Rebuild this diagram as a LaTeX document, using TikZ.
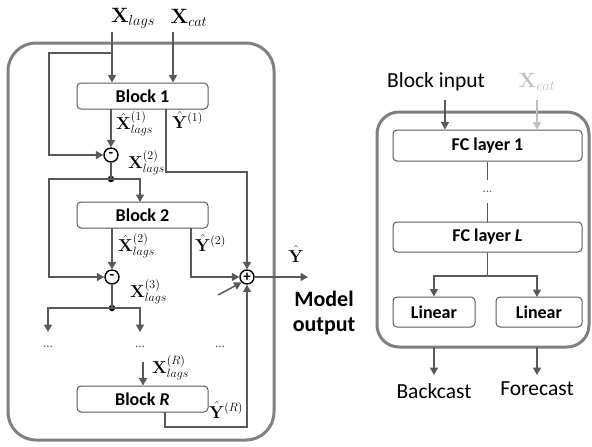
\documentclass[tikz,border=0pt]{standalone}
\usepackage[no-math]{fontspec}
\setmainfont{Carlito}
\usetikzlibrary{arrows.meta}
\DeclareMathSizes{15}{15}{11.5}{9}
\DeclareMathSizes{16}{16}{12}{9}
\DeclareMathSizes{20}{20}{15.5}{12}
\DeclareMathSizes{18}{18}{14}{10}
\definecolor{ln}{HTML}{595959}
\definecolor{frame}{HTML}{808080}
\definecolor{lt}{HTML}{BFBFBF}
\begin{document}
\begin{tikzpicture}[x=1pt,y=-1pt,
  conn/.style={draw=ln,line width=1.5pt},
  arr/.style={conn,-{Triangle[length=7.5pt,width=8pt]}},
  outerbox/.style={draw=frame,line width=3pt,rounded corners=28pt},
  blk/.style={draw=ln,line width=1pt,rounded corners=4pt,inner sep=0pt,font=\fontsize{18}{20}\selectfont\bfseries},
  opc/.style={circle,draw=black,line width=1.4pt,minimum size=14pt,inner sep=0pt,font=\fontsize{15}{15}\selectfont\bfseries},
  jdot/.style={circle,fill=black,minimum size=6.5pt,inner sep=0pt},
  lab/.style={anchor=west,inner sep=0pt,font=\fontsize{16}{16}\selectfont},
  big/.style={inner sep=0pt,font=\fontsize{20}{20}\selectfont},
  txt/.style={inner sep=0pt,font=\fontsize{21.5}{24}\selectfont},
  dots/.style={inner sep=0pt,font=\fontsize{13}{13}\selectfont,text=ln}]
\useasboundingbox (0,0) rectangle (592,447);

% ---------- left panel ----------
\draw[outerbox] (8,43) rectangle (274,440);

\node[big] (xlags) at (133,18) {$\mathbf{X}_{lags}$};
\node[big] (xcat) at (189,18) {$\mathbf{X}_{cat}$};

\node[blk,minimum width=131pt,minimum height=26pt] (b1) at (142.5,96) {Block 1};
\node[blk,minimum width=131pt,minimum height=26pt] (b2) at (142.5,215) {Block 2};
\node[blk,minimum width=131pt,minimum height=26pt] (bR) at (142.5,399) {Block \textit{R}};

\node[opc] (m1) at (111,155) {-};
\node[opc] (m2) at (112,277) {-};
\node[opc] (pl) at (247,277) {+};
\node[jdot] (d1) at (111,179) {};
\node[jdot] (d2) at (112,308) {};

\coordinate (xlin) at (112,32);
\coordinate (xcin) at (173,32);
\coordinate (fb1) at (112,53);
\draw[arr] (xlin) -- (xlin |- b1.north);
\draw[arr] (xcin) -- (xcin |- b1.north);
\draw[arr] (fb1) -- (49,53) -- (49,155) -- (m1.west);
\draw[arr] (111,109) -- (m1.north);
\draw[arr] (166,109) -- (166,172) -- (247,172) -- (pl.north);
\draw[conn] (m1.south) -- (d1.center);
\draw[arr] (d1.center) -- (49,179) -- (49,277) -- (m2.west);
\draw[arr] (d1.center) -- (140,179) -- (140,202);
\draw[arr] (112,228) -- (m2.north);
\draw[arr] (191,228) -- (191,277) -- (pl.west);
\coordinate (extra) at (218,295);
\draw[arr] (extra) -- (pl.south west);
\coordinate (yout) at (308,277);
\draw[arr] (pl.east) -- (yout);
\draw[conn] (m2.south) -- (d2.center);
\draw[arr] (d2.center) -- (48,308) -- (48,332);
\draw[arr] (d2.center) -- (140,308) -- (140,332);
\node[dots] (e1) at (48,347) {...};
\node[dots] (e2) at (140,347) {...};
\node[dots] (e3) at (220,347) {...};
\coordinate (xrin) at (143,362);
\draw[arr] (xrin) -- (xrin |- bR.north);
\draw[arr] (165,412) -- (165,427) -- (247,427) -- (pl.south);

\node[lab] (l1) at (116,124) {$\hat{\mathbf{X}}^{(1)}_{lags}$};
\node[lab] (l2) at (172,120) {$\hat{\mathbf{Y}}^{(1)}$};
\node[lab] (l3) at (128,163) {$\mathbf{X}^{(2)}_{lags}$};
\node[lab] (l4) at (118,246) {$\hat{\mathbf{X}}^{(2)}_{lags}$};
\node[lab] (l5) at (195,243) {$\hat{\mathbf{Y}}^{(2)}$};
\node[lab] (l6) at (130,292) {$\mathbf{X}^{(3)}_{lags}$};
\node[lab] (l7) at (152,368) {$\mathbf{X}^{(R)}_{lags}$};
\node[lab] (l8) at (209,410) {$\hat{\mathbf{Y}}^{(R)}$};

\node[inner sep=0pt,font=\fontsize{18}{18}\selectfont] (yh) at (296,254) {$\hat{\mathbf{Y}}$};
\node[align=center,inner sep=0pt,font=\fontsize{22}{25}\selectfont\bfseries] (mo) at (324,313) {Model\\output};

% ---------- right panel ----------
\draw[outerbox,rounded corners=22pt] (377,112) rectangle (589,347);
\node[txt] (bin) at (436,82) {Block input};
\node[big,text=lt] (xc2) at (537,82) {$\mathbf{X}_{cat}$};

\node[blk,minimum width=189pt,minimum height=31pt] (fc1) at (487.5,145.5) {FC layer 1};
\node[blk,minimum width=189pt,minimum height=30pt] (fcl) at (487.5,237) {FC layer \textit{L}};
\node[blk,minimum width=82pt,minimum height=30pt] (lin1) at (434,312) {Linear};
\node[blk,minimum width=86pt,minimum height=30pt] (lin2) at (539,312) {Linear};

\coordinate (bi) at (445,100);
\coordinate (ci) at (537,100);
\draw[arr] (bi) -- (bi |- fc1.north);
\draw[arr,draw=lt] (ci) -- (ci |- fc1.north);
\draw[conn] (fc1.south) -- (487.5,180);
\node[dots] (fd) at (487.5,192) {...};
\draw[conn] (487.5,203) -- (fcl.north);
\coordinate (sp) at (487.5,276);
\draw[conn] (fcl.south) -- (sp);
\draw[arr] (sp) -- (434,276) -- (lin1.north);
\draw[arr] (sp) -- (537,276) -- (537,297);
\coordinate (bc0) at (434,347);
\coordinate (fc0) at (537,347);
\draw[arr] (bc0) -- (434,375);
\draw[arr] (fc0) -- (537,375);
\node[txt] (bc) at (434,391) {Backcast};
\node[txt] (fcst) at (537,389) {Forecast};
\end{tikzpicture}
\end{document}
